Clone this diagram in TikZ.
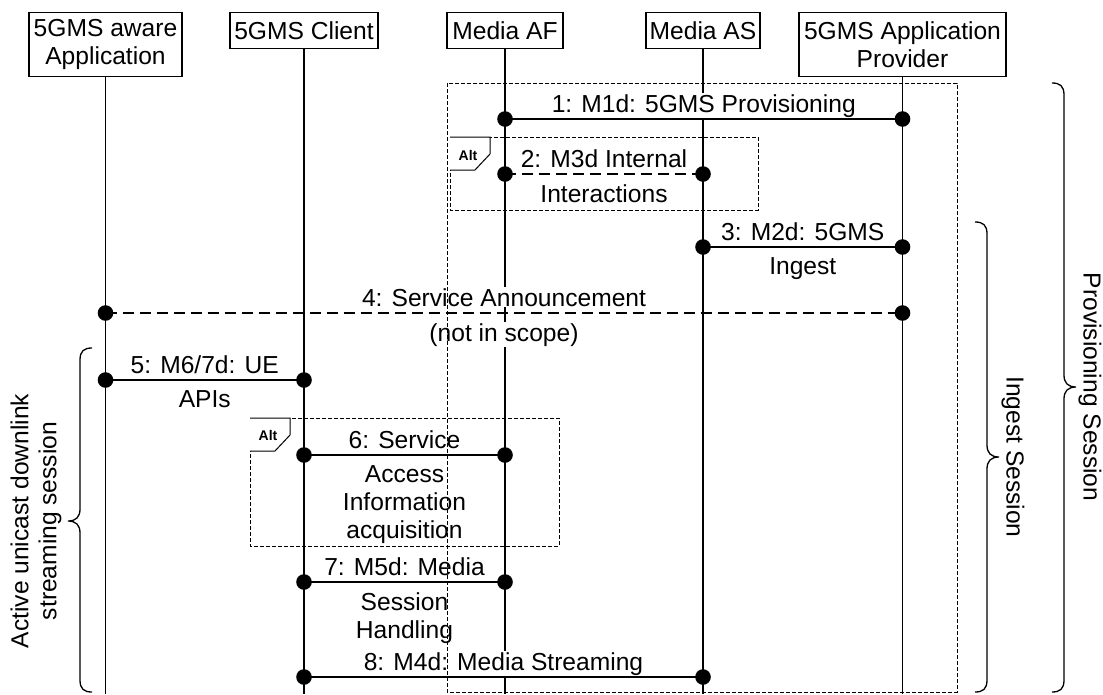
\documentclass[tikz,border=0pt]{standalone}
\usepackage{fontspec}
\setmainfont{Liberation Sans}
\usetikzlibrary{calc}
\begin{document}
\begin{tikzpicture}[x=1pt,y=-1pt,
  every node/.style={font=\fontsize{24.6}{28}\selectfont},
  head/.style={draw, line width=1.2pt, fill=white, anchor=north, align=center, inner sep=0pt},
  life/.style={line width=1.3pt},
  msg/.style={line width=1.5pt},
  msgdash/.style={line width=1.5pt, dash pattern=on 11pt off 6pt},
  lbl/.style={fill=white, inner sep=1pt, anchor=base},
  lblb/.style={fill=white, inner sep=1pt, anchor=north, align=center},
  frame/.style={line width=1pt, dash pattern=on 4pt off 2pt},
  alttab/.style={line width=1pt, fill=white},
  alttxt/.style={font=\fontsize{14}{16}\selectfont\bfseries, inner sep=0pt},
  bracestyle/.style={line width=1.3pt},
  side/.style={align=center, inner sep=0pt}
]
\useasboundingbox (0,0) rectangle (1103,694);

% headers
\node[head, minimum width=153pt, minimum height=64pt] (app) at (105.5,12) {5GMS aware\\Application};
\node[head, minimum width=148pt, minimum height=36pt] (cli) at (304,12) {5GMS Client};
\node[head, minimum width=116pt, minimum height=36pt] (af) at (505,12) {Media AF};
\node[head, minimum width=114pt, minimum height=36pt] (as) at (703,12) {Media AS};
\node[head, minimum width=207pt, minimum height=64pt] (pr) at (902.5,12) {5GMS Application\\Provider};

% lifeline ends
\coordinate (appE) at (app.south |- 0,694);
\coordinate (cliE) at (cli.south |- 0,694);
\coordinate (afE) at (af.south |- 0,694);
\coordinate (asE) at (as.south |- 0,694);
\coordinate (prE) at (pr.south |- 0,694);
\draw[life] (app.south) -- (appE);
\draw[life] (cli.south) -- (cliE);
\draw[life] (af.south) -- (afE);
\draw[life] (as.south) -- (asE);
\draw[life] (pr.south) -- (prE);

% message end points
\coordinate (m1a) at (af.south |- 0,119);  \coordinate (m1b) at (pr.south |- 0,119);
\coordinate (m2a) at (af.south |- 0,174);  \coordinate (m2b) at (as.south |- 0,174);
\coordinate (m3a) at (as.south |- 0,247);  \coordinate (m3b) at (pr.south |- 0,247);
\coordinate (m4a) at (app.south |- 0,313); \coordinate (m4b) at (pr.south |- 0,313);
\coordinate (m5a) at (app.south |- 0,380); \coordinate (m5b) at (cli.south |- 0,380);
\coordinate (m6a) at (cli.south |- 0,455); \coordinate (m6b) at (af.south |- 0,455);
\coordinate (m7a) at (cli.south |- 0,582); \coordinate (m7b) at (af.south |- 0,582);
\coordinate (m8a) at (cli.south |- 0,677); \coordinate (m8b) at (as.south |- 0,677);

\draw[msg] (m1a) -- (m1b);
\draw[msgdash] (m2a) -- (m2b);
\draw[msg] (m3a) -- (m3b);
\draw[msgdash] (m4a) -- (m4b);
\draw[msg] (m5a) -- (m5b);
\draw[msg] (m6a) -- (m6b);
\draw[msg] (m7a) -- (m7b);
\draw[msg] (m8a) -- (m8b);
\foreach \p in {m1a,m1b,m2a,m2b,m3a,m3b,m4a,m4b,m5a,m5b,m6a,m6b,m7a,m7b,m8a,m8b}
  \fill (\p) circle (7.8pt);

% labels
\node[lbl] (l1) at ($(m1a)!0.5!(m1b)+(0,-7)$) {1: M1d: 5GMS Provisioning};
\node[lbl] (l2) at ($(m2a)!0.5!(m2b)+(0,-7)$) {2: M3d Internal};
\node[lblb] (l2b) at ($(m2a)!0.5!(m2b)+(0,9)$) {Interactions};
\node[lbl] (l3) at ($(m3a)!0.5!(m3b)+(0,-7)$) {3: M2d: 5GMS};
\node[lblb] (l3b) at ($(m3a)!0.5!(m3b)+(0,9)$) {Ingest};
\node[lbl] (l4) at ($(m4a)!0.5!(m4b)+(0,-7)$) {4: Service Announcement};
\node[lblb] (l4b) at ($(m4a)!0.5!(m4b)+(0,9)$) {(not in scope)};
\node[lbl] (l5) at ($(m5a)!0.5!(m5b)+(0,-7)$) {5: M6/7d: UE};
\node[lblb] (l5b) at ($(m5a)!0.5!(m5b)+(0,9)$) {APIs};
\node[lbl] (l6) at ($(m6a)!0.5!(m6b)+(0,-7)$) {6: Service};
\node[lblb] (l6b) at ($(m6a)!0.5!(m6b)+(0,9)$) {Access\\Information\\acquisition};
\node[lbl] (l7) at ($(m7a)!0.5!(m7b)+(0,-7)$) {7: M5d: Media};
\node[lblb] (l7b) at ($(m7a)!0.5!(m7b)+(0,9)$) {Session\\Handling};
\node[lbl] (l8) at ($(m8a)!0.5!(m8b)+(0,-7)$) {8: M4d: Media Streaming};

% frames
\draw[frame] (447,83) rectangle (957,692);
\draw[frame] (450,137) rectangle (758,210);
\draw[frame] (250,418) rectangle (559,546);
\draw[alttab] (450,137) -- (490,137) -- (490,154) -- (475,170) -- (450,170);
\node[alttxt] (alt1) at (468,155) {Alt};
\draw[alttab] (250,418) -- (290,418) -- (290,435) -- (275,451) -- (250,451);
\node[alttxt] (alt2) at (268,435) {Alt};

% braces
\draw[bracestyle] (92,348) .. controls (84,348) and (80,351) .. (80,360) -- (80,509)
  .. controls (80,517) and (76,521) .. (68,521) .. controls (76,521) and (80,525) .. (80,533)
  -- (80,680) .. controls (80,689) and (84,692) .. (92,692);
\draw[bracestyle] (975,222) .. controls (983,222) and (987,225) .. (987,234) -- (987,445)
  .. controls (987,453) and (991,457) .. (999,457) .. controls (991,457) and (987,461) .. (987,469)
  -- (987,680) .. controls (987,689) and (983,692) .. (975,692);
\draw[bracestyle] (1052,83) .. controls (1060,83) and (1064,86) .. (1064,95) -- (1064,375)
  .. controls (1064,383) and (1068,387) .. (1076,387) .. controls (1068,387) and (1064,391) .. (1064,399)
  -- (1064,680) .. controls (1064,689) and (1060,692) .. (1052,692);

\node[side, rotate=90] (s1) at (36,521) {Active unicast downlink\\streaming session};
\node[side, rotate=-90] (s2) at (1013,457) {Ingest Session};
\node[side, rotate=-90] (s3) at (1090,387) {Provisioning Session};
\end{tikzpicture}
\end{document}
